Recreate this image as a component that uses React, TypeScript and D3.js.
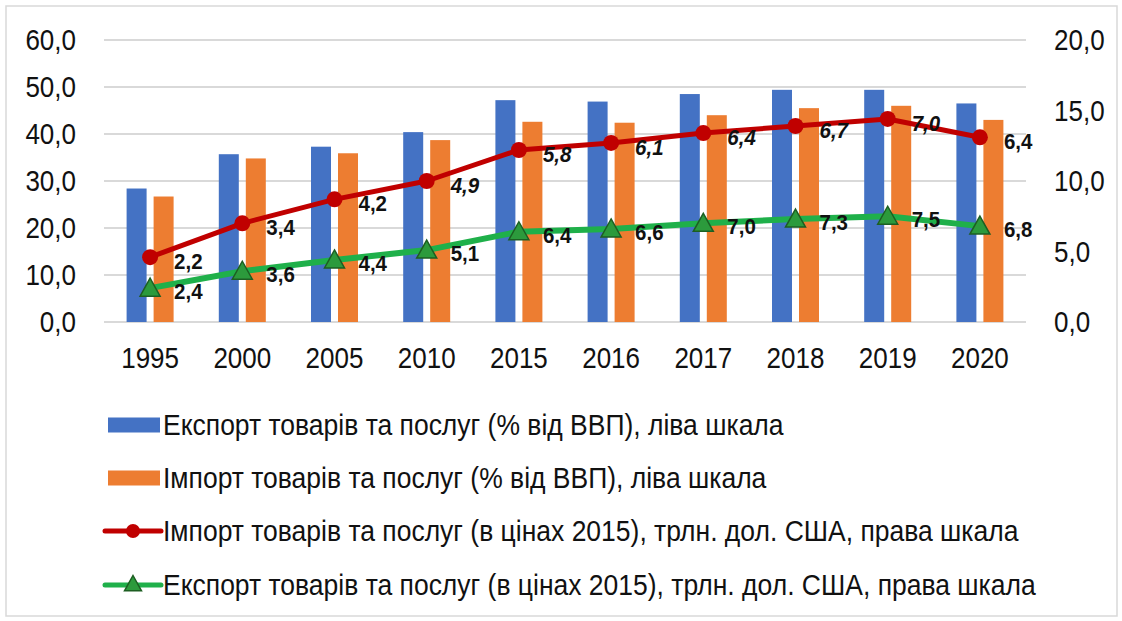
import React from 'react';
import * as d3 from 'd3';

const years = ['1995', '2000', '2005', '2010', '2015', '2016', '2017', '2018', '2019', '2020'];
const exportGdp = [28.4, 35.7, 37.3, 40.4, 47.2, 46.9, 48.5, 49.4, 49.4, 46.5];
const importGdp = [26.7, 34.8, 35.9, 38.7, 42.6, 42.4, 44.0, 45.5, 46.0, 43.0];
// labels of the red series as printed
const importTrlnLabels = [2.2, 3.4, 4.2, 4.9, 5.8, 6.1, 6.4, 6.7, 7.0, 6.4];
// red series position as read against the right scale
const importTrlnPlotted = [4.6, 7.0, 8.7, 10.0, 12.2, 12.7, 13.4, 13.9, 14.4, 13.1];
const exportTrln = [2.4, 3.6, 4.4, 5.1, 6.4, 6.6, 7.0, 7.3, 7.5, 6.8];
const leftTicks = [0, 10, 20, 30, 40, 50, 60];
const rightTicks = [0, 5, 10, 15, 20];
const legendLabels = [
  'Експорт товарів та послуг (% від ВВП), ліва шкала',
  'Імпорт товарів та послуг (% від ВВП), ліва шкала',
  'Імпорт товарів та послуг (в цінах 2015), трлн. дол. США, права шкала',
  'Експорт товарів та послуг (в цінах 2015), трлн. дол. США, права шкала',
];

const FONT = "'Liberation Sans', Arial, sans-serif";
const BLUE = '#4472c4';
const ORANGE = '#ed7d31';
const RED = '#c00000';
const GREEN = '#1fb04a';
const TRI_FILL = '#2c9a3c';
const TRI_STROKE = '#1d5e22';

function StretchText(props: { x: number; y: number; size: number; anchor?: string; weight?: string; italic?: boolean; children: React.ReactNode }) {
  const { x, y, size, anchor = 'start', weight = 'normal', italic = false, children } = props;
  return (
    <text transform={`translate(${x},${y}) scale(1,1.1)`} dy="0.35em" textAnchor={anchor}
      fontSize={size} fontWeight={weight} fontStyle={italic ? 'italic' : 'normal'} fill="#111">
      {children}
    </text>
  );
}

export default function App() {
  const W = 1122, H = 621;
  const x0 = 104, x1 = 1026, yTop = 40, yBot = 322;
  const x = d3.scaleBand<string>().domain(years).range([x0, x1]);
  const yL = d3.scaleLinear().domain([0, 60]).range([yBot, yTop]);
  const yR = d3.scaleLinear().domain([0, 20]).range([yBot, yTop]);
  const fmt = (v: number) => d3.format('.1f')(v).replace('.', ',');
  const cx = (y: string) => (x(y) as number) + x.bandwidth() / 2;
  const barW = 20;

  const redLine = d3.line<number>().x((_, i) => cx(years[i])).y((d) => yR(d));
  const greenLine = d3.line<number>().x((_, i) => cx(years[i])).y((d) => yR(d));

  const tri = (px: number, py: number, s = 10) =>
    `M${px},${py - s}L${px + s},${py + s * 0.8}L${px - s},${py + s * 0.8}Z`;

  const legendY = [425, 478, 531, 585];

  return (
    <svg width={W} height={H} style={{ position: 'absolute', left: 0, top: 0, background: '#fff' }}
      fontFamily={FONT}>
      <rect x={6} y={6} width={1111} height={610} fill="#fff" stroke="#d9d9d9" strokeWidth={1.5} />
      {leftTicks.map((t) => (
        <line key={t} x1={x0} x2={x1} y1={yL(t)} y2={yL(t)} stroke="#d9d9d9" strokeWidth={2} />
      ))}
      {leftTicks.map((t) => (
        <StretchText key={'l' + t} x={76} y={yL(t)} size={26} anchor="end">{fmt(t)}</StretchText>
      ))}
      {rightTicks.map((t) => (
        <StretchText key={'r' + t} x={1054} y={yR(t)} size={26}>{fmt(t)}</StretchText>
      ))}
      {years.map((yr) => (
        <StretchText key={'x' + yr} x={cx(yr)} y={358} size={26} anchor="middle">{yr}</StretchText>
      ))}
      {years.map((yr, i) => (
        <g key={'b' + yr}>
          <rect x={cx(yr) - 23.5} width={barW} y={yL(exportGdp[i])} height={yBot - yL(exportGdp[i])} fill={BLUE} />
          <rect x={cx(yr) + 3.5} width={barW} y={yL(importGdp[i])} height={yBot - yL(importGdp[i])} fill={ORANGE} />
        </g>
      ))}
      <path d={redLine(importTrlnPlotted) as string} fill="none" stroke={RED} strokeWidth={5} strokeLinejoin="round" />
      {importTrlnPlotted.map((v, i) => (
        <circle key={'rc' + i} cx={cx(years[i])} cy={yR(v)} r={8} fill={RED} />
      ))}
      <path d={greenLine(exportTrln) as string} fill="none" stroke={GREEN} strokeWidth={6} strokeLinejoin="round" />
      {exportTrln.map((v, i) => (
        <path key={'gt' + i} d={tri(cx(years[i]), yR(v))} fill={TRI_FILL} stroke={TRI_STROKE} strokeWidth={1.5} />
      ))}
      {importTrlnLabels.map((v, i) => (
        <StretchText key={'rl' + i} x={cx(years[i]) + 24} y={yR(importTrlnPlotted[i]) + 4} size={20.5}
          weight="bold" italic={i >= 3 && i <= 8}>{fmt(v)}</StretchText>
      ))}
      {exportTrln.map((v, i) => (
        <StretchText key={'gl' + i} x={cx(years[i]) + 24} y={yR(v) + 3} size={20.5} weight="bold">{fmt(v)}</StretchText>
      ))}
      {/* legend */}
      <rect x={108} y={legendY[0] - 7.5} width={52} height={15} fill={BLUE} />
      <rect x={108} y={legendY[1] - 7.5} width={52} height={15} fill={ORANGE} />
      <line x1={105} x2={161} y1={legendY[2]} y2={legendY[2]} stroke={RED} strokeWidth={5} strokeLinecap="round" />
      <circle cx={133} cy={legendY[2]} r={7} fill={RED} />
      <line x1={105} x2={161} y1={legendY[3]} y2={legendY[3]} stroke={GREEN} strokeWidth={5} strokeLinecap="round" />
      <path d={tri(133, legendY[3] - 1, 8.5)} fill={TRI_FILL} stroke={TRI_STROKE} strokeWidth={1.5} />
      {legendLabels.map((l, i) => (
        <StretchText key={'lg' + i} x={163} y={legendY[i]} size={26.5}>{l}</StretchText>
      ))}
    </svg>
  );
}
